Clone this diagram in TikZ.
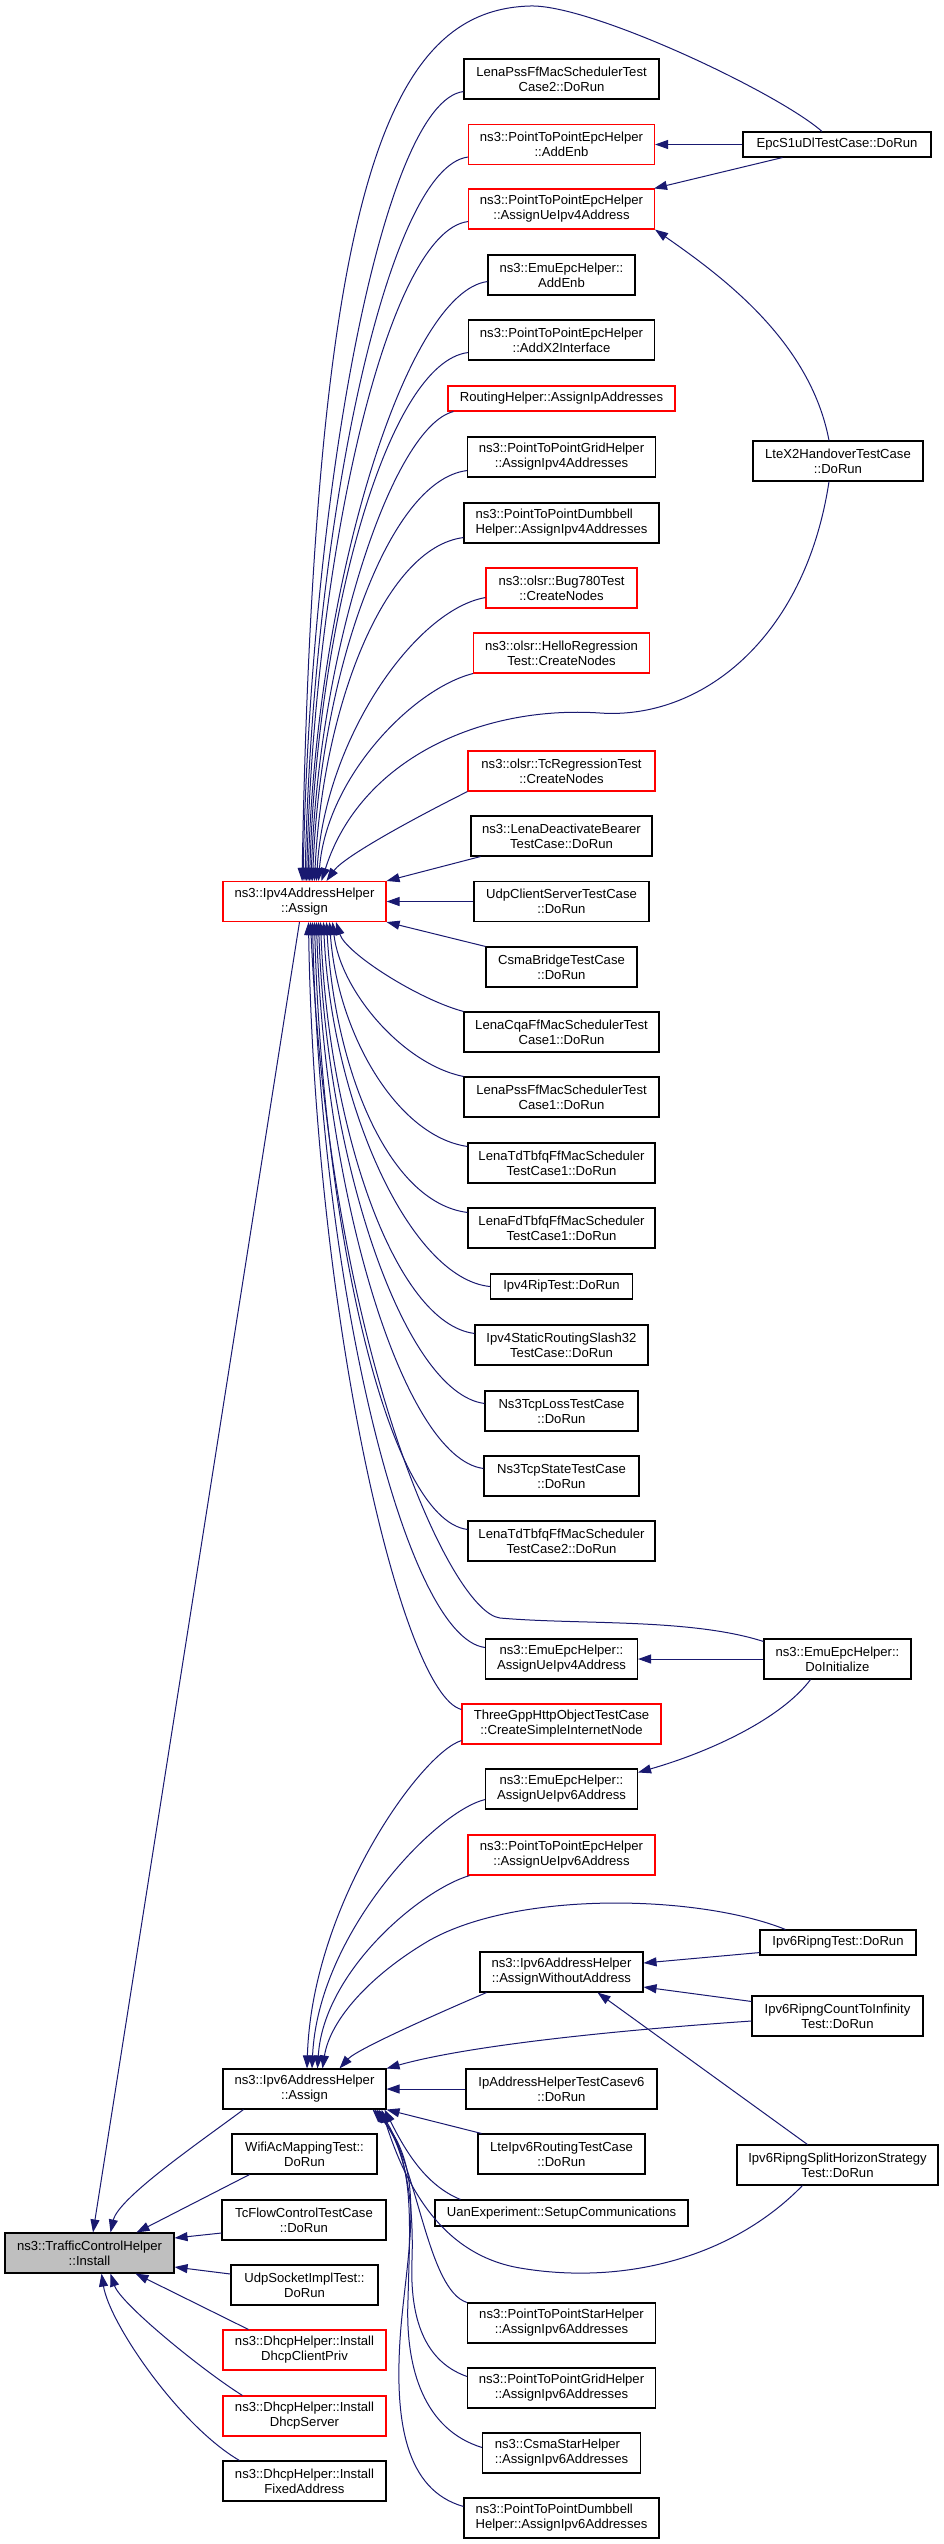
\documentclass[tikz,border=0pt]{standalone}
\usepackage{fontspec}
\setmainfont{Liberation Sans}
\usetikzlibrary{arrows.meta,calc}
\definecolor{edgec}{HTML}{191970}
\definecolor{boxred}{HTML}{FF0000}
\definecolor{boxgray}{HTML}{BFBFBF}
\tikzset{
  box/.style={draw=black, line width=1.1pt, fill=white, align=center, inner sep=0pt,
    font=\fontsize{13.1}{15}\selectfont},
  redbox/.style={box, draw=boxred},
  leftbox/.style={box, align=left},
  edge/.style={draw=edgec, line width=1pt, -{Triangle[length=13pt,width=9pt]}},
}
\newcommand\fanedge[6]{\draw[edge] let \p1=(#1), \p2=(#2) in (\p1) .. controls ($(\p1)+(#3,#4)$) and ($(\p2)!#5!(\x2,\y1)+(#6,0)$) .. (\p2);}
\begin{document}
\begin{tikzpicture}[x=1pt,y=-1pt]
\fill[white] (0,0) rectangle (944,2544);
\useasboundingbox (0,0) rectangle (944,2544);
% rank 0
\node[box, fill=boxgray, minimum width=169pt, minimum height=40pt] (tch) at (89.5,2253) {ns3::TrafficControlHelper\\::Install};
% rank 1
\node[redbox, minimum width=163pt, minimum height=40pt] (ipv4) at (304.5,901.5) {ns3::Ipv4AddressHelper\\::Assign};
\node[box, minimum width=163pt, minimum height=40pt] (ipv6) at (304.5,2089) {ns3::Ipv6AddressHelper\\::Assign};
\node[box, minimum width=145pt, minimum height=40pt] (wifi) at (304.5,2154) {WifiAcMappingTest::\\DoRun};
\node[box, minimum width=164pt, minimum height=40pt] (tcflow) at (304,2220) {TcFlowControlTestCase\\::DoRun};
\node[box, minimum width=147pt, minimum height=40pt] (udpsock) at (304.5,2285) {UdpSocketImplTest::\\DoRun};
\node[redbox, minimum width=163pt, minimum height=40pt] (dhcpcp) at (304.5,2350) {ns3::DhcpHelper::Install\\DhcpClientPriv};
\node[redbox, minimum width=163pt, minimum height=40pt] (dhcpsrv) at (304.5,2416) {ns3::DhcpHelper::Install\\DhcpServer};
\node[box, minimum width=163pt, minimum height=40pt] (dhcpfix) at (304.5,2481) {ns3::DhcpHelper::Install\\FixedAddress};
% rank 2
\node[box, minimum width=195pt, minimum height=40pt] (lenapss2) at (561.5,79) {LenaPssFfMacSchedulerTest\\Case2::DoRun};
\node[redbox, minimum width=186pt, minimum height=40pt] (addenb) at (561.5,144.5) {ns3::PointToPointEpcHelper\\::AddEnb};
\node[redbox, minimum width=186pt, minimum height=40pt] (assignue4) at (561.5,209) {ns3::PointToPointEpcHelper\\::AssignUeIpv4Address};
\node[box, minimum width=147pt, minimum height=40pt] (emuaddenb) at (561.5,275) {ns3::EmuEpcHelper::\\AddEnb};
\node[box, minimum width=186pt, minimum height=40pt] (addx2) at (561.5,340) {ns3::PointToPointEpcHelper\\::AddX2Interface};
\node[redbox, minimum width=227pt, minimum height=25pt] (routing) at (561.5,398.5) {RoutingHelper::AssignIpAddresses};
\node[box, minimum width=188pt, minimum height=40pt] (grid4) at (561.5,457) {ns3::PointToPointGridHelper\\::AssignIpv4Addresses};
\node[leftbox, minimum width=195pt, minimum height=40pt] (dumbbell4) at (561.5,523) {ns3::PointToPointDumbbell\\Helper::AssignIpv4Addresses};
\node[redbox, minimum width=151pt, minimum height=40pt] (bug780) at (561.5,588) {ns3::olsr::Bug780Test\\::CreateNodes};
\node[redbox, minimum width=176pt, minimum height=40pt] (hello) at (561.5,653) {ns3::olsr::HelloRegression\\Test::CreateNodes};
\node[redbox, minimum width=187pt, minimum height=40pt] (tcreg) at (561.5,771) {ns3::olsr::TcRegressionTest\\::CreateNodes};
\node[box, minimum width=181pt, minimum height=40pt] (lenadeact) at (561.5,836) {ns3::LenaDeactivateBearer\\TestCase::DoRun};
\node[box, minimum width=175pt, minimum height=40pt] (udpcs) at (561.5,901.5) {UdpClientServerTestCase\\::DoRun};
\node[box, minimum width=151pt, minimum height=40pt] (csma) at (561.5,967) {CsmaBridgeTestCase\\::DoRun};
\node[box, minimum width=195pt, minimum height=40pt] (cqa) at (561.5,1032) {LenaCqaFfMacSchedulerTest\\Case1::DoRun};
\node[box, minimum width=195pt, minimum height=40pt] (pss1) at (561.5,1097) {LenaPssFfMacSchedulerTest\\Case1::DoRun};
\node[box, minimum width=187pt, minimum height=40pt] (tdtb1) at (561.5,1163) {LenaTdTbfqFfMacScheduler\\TestCase1::DoRun};
\node[box, minimum width=187pt, minimum height=40pt] (fdtb1) at (561.5,1228) {LenaFdTbfqFfMacScheduler\\TestCase1::DoRun};
\node[box, minimum width=142pt, minimum height=25pt] (rip) at (561.5,1286.5) {Ipv4RipTest::DoRun};
\node[box, minimum width=173pt, minimum height=40pt] (static) at (561.5,1345) {Ipv4StaticRoutingSlash32\\TestCase::DoRun};
\node[box, minimum width=153pt, minimum height=40pt] (tcploss) at (561.5,1411) {Ns3TcpLossTestCase\\::DoRun};
\node[box, minimum width=155pt, minimum height=40pt] (tcpstate) at (561.5,1476) {Ns3TcpStateTestCase\\::DoRun};
\node[box, minimum width=187pt, minimum height=40pt] (tdtb2) at (561.5,1541) {LenaTdTbfqFfMacScheduler\\TestCase2::DoRun};
\node[box, minimum width=152pt, minimum height=40pt] (emuue4) at (561.5,1659) {ns3::EmuEpcHelper::\\AssignUeIpv4Address};
\node[redbox, minimum width=199pt, minimum height=40pt] (threegpp) at (561.5,1724) {ThreeGppHttpObjectTestCase\\::CreateSimpleInternetNode};
\node[box, minimum width=152pt, minimum height=40pt] (emuue6) at (561.5,1789) {ns3::EmuEpcHelper::\\AssignUeIpv6Address};
\node[redbox, minimum width=187pt, minimum height=40pt] (p2pepc6) at (561.5,1855) {ns3::PointToPointEpcHelper\\::AssignUeIpv6Address};
\node[box, minimum width=163pt, minimum height=40pt] (awa) at (561.5,1972) {ns3::Ipv6AddressHelper\\::AssignWithoutAddress};
\node[box, minimum width=191pt, minimum height=40pt] (ipaddrv6) at (561.5,2089) {IpAddressHelperTestCasev6\\::DoRun};
\node[box, minimum width=167pt, minimum height=40pt] (lteipv6) at (561.5,2154) {LteIpv6RoutingTestCase\\::DoRun};
\node[box, minimum width=253pt, minimum height=26pt] (uan) at (561.5,2213) {UanExperiment::SetupCommunications};
\node[box, minimum width=188pt, minimum height=40pt] (star6) at (561.5,2323) {ns3::PointToPointStarHelper\\::AssignIpv6Addresses};
\node[box, minimum width=188pt, minimum height=40pt] (grid6) at (561.5,2388) {ns3::PointToPointGridHelper\\::AssignIpv6Addresses};
\node[leftbox, minimum width=158pt, minimum height=40pt] (csmastar6) at (561.5,2453) {ns3::CsmaStarHelper\\::AssignIpv6Addresses};
\node[leftbox, minimum width=195pt, minimum height=40pt] (dumbbell6) at (561.5,2518) {ns3::PointToPointDumbbell\\Helper::AssignIpv6Addresses};
% rank 3
\node[box, minimum width=188pt, minimum height=25pt] (epc) at (837,144.5) {EpcS1uDlTestCase::DoRun};
\node[box, minimum width=170pt, minimum height=40pt] (ltex2) at (838,461) {LteX2HandoverTestCase\\::DoRun};
\node[box, minimum width=147pt, minimum height=40pt] (doinit) at (837.5,1659) {ns3::EmuEpcHelper::\\DoInitialize};
\node[box, minimum width=156pt, minimum height=25pt] (ripng) at (838,1942.5) {Ipv6RipngTest::DoRun};
\node[box, minimum width=171pt, minimum height=40pt] (cti) at (837.5,2016) {Ipv6RipngCountToInfinity\\Test::DoRun};
\node[box, minimum width=201pt, minimum height=40pt] (splith) at (837.5,2165) {Ipv6RipngSplitHorizonStrategy\\Test::DoRun};

% ---- edges into Ipv4AddressHelper::Assign (top) ----
\draw[edge] ($(epc.north)+(-15,0)$) .. controls (777,92) and (590,4) .. (530,6) .. controls (390,10) and (315,180) .. ($(ipv4.north)+(-2.5,0)$);
\fanedge{$(lenapss2.south west)+(0,-8)$}{$(ipv4.north)+(-1.5,0)$}{-80}{10}{0.5}{8}
\fanedge{$(addenb.south west)+(0,-8)$}{$(ipv4.north)+(0.5,0)$}{-80}{10}{0.5}{8}
\fanedge{$(assignue4.south west)+(0,-8)$}{$(ipv4.north)+(2,0)$}{-80}{10}{0.5}{8}
\fanedge{$(emuaddenb.south west)+(0,-14)$}{$(ipv4.north)+(3.5,0)$}{-80}{10}{0.5}{8}
\fanedge{$(addx2.south west)+(0,-8)$}{$(ipv4.north)+(5,0)$}{-80}{10}{0.5}{8}
\fanedge{$(routing.south west)+(6,0)$}{$(ipv4.north)+(6.5,0)$}{-60}{15}{0.5}{8}
\fanedge{$(grid4.south west)+(0,-7)$}{$(ipv4.north)+(8,0)$}{-80}{10}{0.5}{8}
\fanedge{$(dumbbell4.south west)+(0,-6)$}{$(ipv4.north)+(10,0)$}{-80}{10}{0.5}{8}
\fanedge{$(bug780.south west)+(0,-11)$}{$(ipv4.north)+(12,0)$}{-70}{12}{0.5}{8}
\fanedge{hello.south west}{$(ipv4.north)+(14,0)$}{-60}{15}{0.5}{8}
\draw[edge] ($(ltex2.south)+(-9,0)$) .. controls (805,640) and (700,720) .. (600,713) .. controls (480,705) and (360,760) .. ($(ipv4.north)+(17,0)$);
\draw[edge] (tcreg.south west) .. controls +(-50,25) and +(18,-25) .. ($(ipv4.north)+(22,0)$);
\draw[edge] ($(lenadeact.south west)+(10,0)$) -- (ipv4.north east);
% ---- edges into Ipv4AddressHelper::Assign (side, bottom) ----
\draw[edge] (udpcs.west) -- (ipv4.east);
\draw[edge] (csma.north west) -- (ipv4.south east);
\fanedge{cqa.north west}{$(ipv4.south)+(31.5,0)$}{-45}{-12}{0.35}{10}
\fanedge{pss1.north west}{$(ipv4.south)+(28,0)$}{-60}{-12}{0.45}{8}
\fanedge{$(tdtb1.north west)+(0,4)$}{$(ipv4.south)+(25,0)$}{-70}{-10}{0.5}{8}
\fanedge{$(fdtb1.north west)+(0,5)$}{$(ipv4.south)+(22,0)$}{-80}{-10}{0.5}{8}
\fanedge{rip.west}{$(ipv4.south)+(19,0)$}{-80}{-8}{0.5}{8}
\fanedge{$(static.north west)+(0,9)$}{$(ipv4.south)+(16,0)$}{-80}{-10}{0.5}{8}
\fanedge{$(tcploss.north west)+(0,13)$}{$(ipv4.south)+(14,0)$}{-80}{-10}{0.5}{8}
\fanedge{$(tcpstate.north west)+(0,13)$}{$(ipv4.south)+(12,0)$}{-80}{-10}{0.5}{8}
\fanedge{$(tdtb2.north west)+(0,9)$}{$(ipv4.south)+(10,0)$}{-80}{-10}{0.5}{8}
\fanedge{$(emuue4.north west)+(0,9)$}{$(ipv4.south)+(8,0)$}{-80}{-10}{0.5}{8}
\draw[edge] ($(doinit.north west)+(0,3)$) .. controls (690,1618) and (580,1625) .. (500,1618) .. controls (450,1612) and (330,1350) .. ($(ipv4.south)+(6,0)$);
\fanedge{$(threegpp.north west)+(0,6)$}{$(ipv4.south)+(4,0)$}{-60}{-15}{0.5}{6}
% ---- other rank-3 edges ----
\draw[edge] (epc.west) -- (addenb.east);
\draw[edge] ($(epc.south west)+(40,0)$) -- ($(assignue4.north east)+(-1,0)$);
\draw[edge] ($(ltex2.north)+(-9,0)$) .. controls (810,340) and (720,275) .. (assignue4.south east);
\draw[edge] (doinit.west) -- (emuue4.east);
\draw[edge] ($(doinit.south)+(-27,0)$) .. controls +(-30,40) and +(70,-20) .. ($(emuue6.north east)+(0,4)$);
% ---- edges into Ipv6AddressHelper::Assign ----
\fanedge{$(threegpp.south west)+(0,-4)$}{$(ipv6.north)+(2.5,0)$}{-40}{12}{0.5}{5}
\fanedge{$(emuue6.south west)+(0,-10)$}{$(ipv6.north)+(7.5,0)$}{-50}{12}{0.5}{6}
\fanedge{$(p2pepc6.south west)+(2,0)$}{$(ipv6.north)+(13,0)$}{-50}{15}{0.5}{6}
\draw[edge] ($(ripng.north west)+(26,0)$) .. controls (700,1895) and (520,1890) .. (430,1940) .. controls (370,1975) and (330,2020) .. ($(ipv6.north)+(18,0)$);
\draw[edge] ($(awa.south west)+(7,0)$) .. controls +(-35,15) and +(18,-20) .. ($(ipv6.north)+(35,0)$);
\draw[edge] ($(cti.west)+(0,5)$) .. controls (620,2030) and (470,2045) .. (ipv6.north east);
\draw[edge] (ipaddrv6.west) -- (ipv6.east);
\draw[edge] ($(lteipv6.north west)+(4,0)$) -- (ipv6.south east);
\draw[edge] ($(uan.north west)+(26,0)$) .. controls (425,2185) and (405,2150) .. ($(ipv6.south east)+(-2,0)$);
\draw[edge] ($(splith.south west)+(66,0)$) .. controls (730,2260) and (620,2285) .. (520,2268) .. controls (450,2256) and (410,2200) .. ($(ipv6.south east)+(-5,0)$);
\draw[edge] (star6.north west) .. controls (428,2290) and (418,2170) .. ($(ipv6.south east)+(-8,0)$);
\draw[edge] ($(grid6.north west)+(0,9)$) .. controls (420,2360) and (410,2310) .. (412,2260) .. controls (414,2200) and (405,2150) .. ($(ipv6.south east)+(-10,0)$);
\draw[edge] ($(csmastar6.north west)+(0,15)$) .. controls (425,2430) and (405,2370) .. (408,2300) .. controls (410,2220) and (415,2160) .. ($(ipv6.south east)+(-12,0)$);
\draw[edge] ($(dumbbell6.north west)+(0,9)$) .. controls (405,2490) and (395,2420) .. (400,2340) .. controls (405,2260) and (430,2170) .. ($(ipv6.south east)+(-14,0)$);
% ---- edges into AssignWithoutAddress ----
\draw[edge] ($(ripng.south west)+(0,-3)$) -- ($(awa.east)+(0,-9)$);
\draw[edge] ($(cti.north west)+(0,6)$) -- ($(awa.east)+(0,15)$);
\draw[edge] ($(splith.north west)+(71,0)$) -- ($(awa.south east)+(-46,0)$);
% ---- edges into TrafficControlHelper::Install ----
\draw[edge] ($(ipv4.south)+(-5,0)$) -- ($(tch.north)+(3.5,0)$);
\draw[edge] ($(ipv6.south west)+(21,0)$) .. controls +(-40,30) and +(8,-35) .. ($(tch.north)+(21,0)$);
\draw[edge] ($(wifi.south west)+(18,0)$) -- ($(tch.north)+(47,0)$);
\draw[edge] ($(tcflow.west)+(0,13)$) -- ($(tch.east)+(0,-15)$);
\draw[edge] ($(udpsock.west)+(0,-11)$) -- ($(tch.east)+(0,14)$);
\draw[edge] ($(dhcpcp.north west)+(26,0)$) -- ($(tch.south)+(46,0)$);
\draw[edge] ($(dhcpsrv.north west)+(20,0)$) .. controls +(-40,-25) and +(10,30) .. ($(tch.south)+(21,0)$);
\draw[edge] ($(dhcpfix.north west)+(17,0)$) .. controls +(-60,-35) and +(8,50) .. ($(tch.south)+(12,0)$);
\end{tikzpicture}
\end{document}
